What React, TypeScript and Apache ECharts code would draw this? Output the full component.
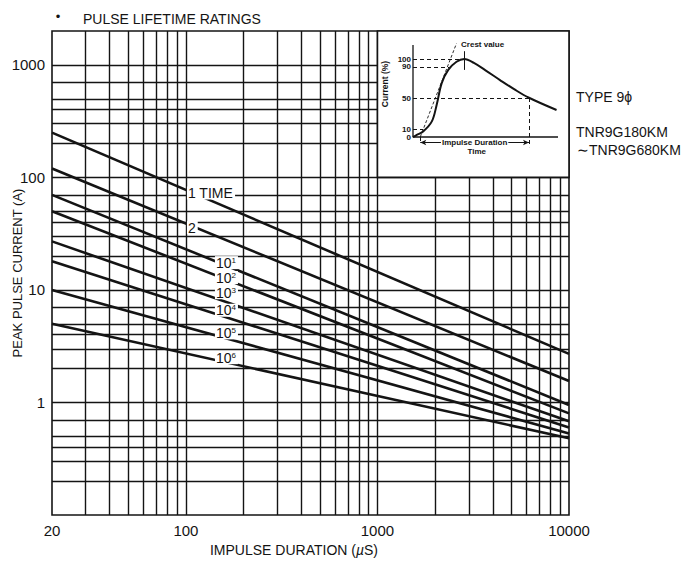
import { useEffect, useRef } from "react";
import * as echarts from "echarts";

const FONT = "'Liberation Sans', Arial, Helvetica, sans-serif";
const INK = "#141414";

// Pulse lifetime rating lines: peak current (A) at the two duration limits (µs)
const durationRange = [20, 10000];
const ratingLabels = ["1 TIME", "2", "10^1", "10^2", "10^3", "10^4", "10^5", "10^6"];
const currentAt20us = [250, 120, 70, 50, 27, 18, 10, 5];
const currentAt10000us = [2.7, 1.55, 0.95, 0.8, 0.68, 0.6, 0.53, 0.48];

// where each rating label sits along its line (duration) and its vertical nudge in px
const labelDuration = [100, 100, 140, 140, 140, 140, 140, 140];
const labelNudge = [3, 4, 2, 3, -5, -3, -2, -2];

// Axis labels and log grid lines
const xTickValues = [20, 100, 1000, 10000];
const yTickValues = [1, 10, 100, 1000];
const xGridValues = [
  30, 40, 50, 60, 70, 80, 90, 100, 200, 300, 400, 500, 600, 700, 800, 900, 1000, 2000,
  3000, 4000, 5000, 6000, 7000, 8000, 9000,
];
const yGridValues = [
  0.2, 0.3, 0.4, 0.5, 0.7, 1, 2, 3, 4, 5, 7, 10, 20, 30, 40, 50, 70, 100, 200, 300, 400, 500,
  700, 1000,
];

// Inset: impulse current waveform (time in arbitrary units, current in %)
const waveTime = [0, 2.6, 7, 13, 16.3, 19.8, 24.3, 30, 35.4, 42, 50, 60, 70, 80, 99];
const waveCurrent = [0, 2.6, 7, 20, 41, 69, 86, 96.5, 100, 95, 85.5, 73, 61, 50.3, 34.6];
const insetTickValues = [0, 10, 50, 90, 100];
const frontLineTime = [5, 30];
const frontLineCurrent = [0, 120];
const crestTime = 35.4;
const ninetyTime = 25;
const tenTime = 7;
const halfValueTime = 80;

const round6 = (v: number) => Number(Number(v).toPrecision(6));

const richLabel = (s: string) => {
  const [base, exp] = s.split("^");
  return exp ? `{n|${base}}{s|${exp}}` : `{n|${base}}`;
};

// value of rating line i at duration t (straight line on log-log axes)
const lineValueAt = (i: number, t: number) => {
  const k =
    Math.log(currentAt10000us[i] / currentAt20us[i]) /
    Math.log(durationRange[1] / durationRange[0]);
  return currentAt20us[i] * Math.pow(t / durationRange[0], k);
};

const textEl = (
  text: string,
  x: number,
  y: number,
  font: string,
  extra: Record<string, unknown> = {}
) => ({
  type: "text",
  x,
  y,
  z: 50,
  ...extra,
  style: { text, fill: INK, font, textAlign: "left", textVerticalAlign: "middle", ...(extra.style as object) },
});

export default function App() {
  const ref = useRef<HTMLDivElement>(null);

  useEffect(() => {
    if (!ref.current) return;
    const chart = echarts.init(ref.current, undefined, { renderer: "svg" });

    const ratingSeries = ratingLabels.map((name, i) => ({
      type: "line",
      name,
      xAxisIndex: 0,
      yAxisIndex: 0,
      z: 4,
      silent: true,
      symbol: "none",
      showSymbol: false,
      data: [
        [durationRange[0], currentAt20us[i]],
        [durationRange[1], currentAt10000us[i]],
      ],
      lineStyle: { color: INK, width: 2.6 },
      markPoint: {
        z: 12,
        silent: true,
        symbol: "circle",
        symbolSize: 0.1,
        itemStyle: { color: "rgba(0,0,0,0)" },
        label: {
          show: true,
          position: "right",
          distance: 1,
          offset: [0, labelNudge[i]],
          formatter: richLabel(name),
          backgroundColor: "#fff",
          padding: [0, 2, 0, 1],
          rich: {
            n: { fontSize: 14, fontFamily: FONT, color: INK, lineHeight: 13 },
            s: { fontSize: 8, fontFamily: FONT, color: INK, lineHeight: 8, verticalAlign: "top" },
          },
        },
        data: [{ coord: [labelDuration[i], lineValueAt(i, labelDuration[i])] }],
      },
    }));

    const option: any = {
      animation: false,
      backgroundColor: "#fff",
      title: {
        text: "PULSE LIFETIME RATINGS",
        left: 78,
        top: 7,
        textStyle: { fontSize: 14, fontWeight: "normal", fontFamily: FONT, color: INK },
      },
      grid: [
        {
          left: 52,
          right: 119,
          top: 31,
          bottom: 47,
          show: true,
          borderColor: INK,
          borderWidth: 1.6,
          backgroundColor: "transparent",
          outerBoundsMode: "none",
        },
        {
          left: 413,
          top: 43.4,
          width: 145,
          height: 109.2,
          show: false,
          outerBoundsMode: "none",
        },
      ],
      xAxis: [
        {
          type: "log",
          logBase: 10,
          min: 20,
          max: 10000,
          gridIndex: 0,
          name: "{a|IMPULSE DURATION (}{b|µ}{a|S)}",
          nameLocation: "middle",
          nameGap: 27,
          nameTextStyle: {
            padding: [0, 33, 0, 0],
            rich: {
              a: { fontSize: 14, fontFamily: FONT, color: INK },
              b: { fontSize: 14, fontFamily: FONT, color: INK, fontStyle: "italic" },
            },
          },
          axisLine: { show: false },
          axisTick: { show: false },
          splitLine: { show: false },
          minorSplitLine: { show: false },
          axisLabel: {
            margin: 8,
            fontSize: 15,
            fontFamily: FONT,
            color: INK,
            formatter: (v: number) => (xTickValues.includes(round6(v)) ? String(round6(v)) : ""),
          },
        },
        { type: "value", gridIndex: 1, min: 0, max: 100, show: false },
      ],
      yAxis: [
        {
          type: "log",
          logBase: 10,
          min: 0.1,
          max: 2000,
          gridIndex: 0,
          axisLine: { show: false },
          axisTick: { show: false },
          splitLine: { show: false },
          axisLabel: {
            margin: 7,
            fontSize: 15,
            fontFamily: FONT,
            color: INK,
            formatter: (v: number) => (yTickValues.includes(round6(v)) ? String(round6(v)) : ""),
          },
        },
        {
          type: "value",
          gridIndex: 1,
          min: -20,
          max: 120,
          interval: 10,
          z: 20,
          axisLine: { show: false },
          axisTick: { show: false },
          splitLine: { show: false },
          axisLabel: {
            margin: 2,
            fontSize: 8,
            fontWeight: "bold",
            fontFamily: FONT,
            color: INK,
            formatter: (v: number) => (insetTickValues.includes(v) ? String(v) : ""),
          },
        },
      ],
      series: [
        // log grid lines and the white inset panel
        {
          type: "line",
          xAxisIndex: 0,
          yAxisIndex: 0,
          data: [],
          silent: true,
          markLine: {
            z: 1,
            silent: true,
            symbol: ["none", "none"],
            label: { show: false },
            emphasis: { disabled: true },
            lineStyle: { color: INK, width: 1.4, type: "solid" },
            data: [
              ...xGridValues.map((v) => ({ xAxis: v })),
              ...yGridValues.map((v) => ({ yAxis: v })),
            ],
          },
          markArea: {
            z: 3,
            silent: true,
            label: { show: false },
            itemStyle: { color: "#fff", borderColor: INK, borderWidth: 1.6 },
            data: [[{ xAxis: 1000, yAxis: 100 }, { xAxis: 10000, yAxis: 2000 }]],
          },
        },
        ...ratingSeries,
        // inset axes and reference lines
        {
          type: "line",
          xAxisIndex: 1,
          yAxisIndex: 1,
          z: 10,
          silent: true,
          symbol: "none",
          data: [
            [0, 118],
            [0, 0],
            [100, 0],
          ],
          lineStyle: { color: INK, width: 1.3 },
          markLine: {
            z: 11,
            silent: true,
            symbol: ["none", "none"],
            label: { show: false },
            lineStyle: { color: INK, width: 1, type: [4, 3] },
            data: [
              [{ coord: [0, 100] }, { coord: [crestTime, 100] }],
              [{ coord: [0, 90] }, { coord: [ninetyTime, 90] }],
              [{ coord: [0, 50] }, { coord: [halfValueTime, 50] }],
              [{ coord: [0, 10] }, { coord: [tenTime, 10] }],
              [{ coord: [halfValueTime, 50] }, { coord: [halfValueTime, -13] }],
              [{ coord: [frontLineTime[0], 0] }, { coord: [frontLineTime[0], -9] }],
              [
                { coord: [crestTime, 86], lineStyle: { type: "solid", width: 1 } },
                { coord: [crestTime, 110] },
              ],
            ],
          },
        },
        // front line through 10 % and 90 %
        {
          type: "line",
          xAxisIndex: 1,
          yAxisIndex: 1,
          z: 10,
          silent: true,
          symbol: "none",
          data: frontLineTime.map((t, i) => [t, frontLineCurrent[i]]),
          lineStyle: { color: INK, width: 0.9, type: [3, 2] },
        },
        // impulse waveform
        {
          type: "line",
          xAxisIndex: 1,
          yAxisIndex: 1,
          z: 12,
          silent: true,
          symbol: "none",
          smooth: 0.35,
          data: waveTime.map((t, i) => [t, waveCurrent[i]]),
          lineStyle: { color: INK, width: 2 },
          markPoint: {
            z: 13,
            silent: true,
            symbol: "circle",
            symbolSize: 0.1,
            itemStyle: { color: "rgba(0,0,0,0)" },
            label: {
              show: true,
              position: "inside",
              fontSize: 8,
              fontWeight: "bold",
              fontFamily: FONT,
              color: INK,
            },
            data: [
              { coord: [48, 118], label: { formatter: "Crest value" } },
              { coord: [44, -18.5], label: { formatter: "Time" } },
            ],
          },
        },
        // impulse duration arrow
        {
          type: "line",
          xAxisIndex: 1,
          yAxisIndex: 1,
          z: 10,
          silent: true,
          data: [],
          markLine: {
            z: 11,
            silent: true,
            symbol: ["arrow", "arrow"],
            symbolSize: [4, 6],
            lineStyle: { color: INK, width: 1, type: "solid" },
            label: {
              show: true,
              position: "insideMiddle",
              formatter: "Impulse Duration",
              fontSize: 8,
              fontWeight: "bold",
              fontFamily: FONT,
              color: INK,
              backgroundColor: "#fff",
              padding: [0, 1],
            },
            data: [[{ coord: [frontLineTime[0], -7] }, { coord: [halfValueTime, -7] }]],
          },
        },
      ],
      graphic: [
        textEl("•", 58, 16, `13px ${FONT}`, { style: { textAlign: "center" } }),
        textEl("PEAK PULSE CURRENT (A)", 17, 273, `13px ${FONT}`, {
          rotation: Math.PI / 2,
          style: { textAlign: "center" },
        }),
        textEl("Current (%)", 385, 84, `bold 8.5px ${FONT}`, {
          rotation: Math.PI / 2,
          style: { textAlign: "center" },
        }),
        textEl("TYPE 9ϕ", 576, 97, `14px ${FONT}`),
        textEl("TNR9G180KM", 576, 132, `14px ${FONT}`),
        textEl("∼TNR9G680KM", 577, 150, `14px ${FONT}`),
      ],
    };

    chart.setOption(option);
    return () => chart.dispose();
  }, []);

  return (
    <div
      ref={ref}
      style={{ position: "fixed", left: 0, top: 0, width: 688, height: 562, background: "#fff" }}
    />
  );
}
